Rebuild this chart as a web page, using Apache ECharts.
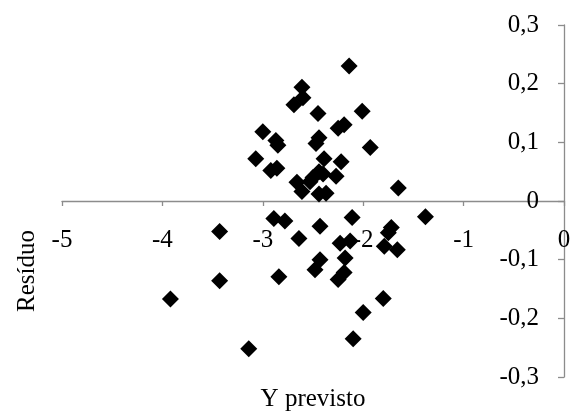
<!DOCTYPE html>
<html>
<head>
<meta charset="utf-8">
<script src="https://cdn.jsdelivr.net/npm/echarts@6/dist/echarts.min.js"></script>
<style>html,body{margin:0;padding:0;background:#fff}#c{width:576px;height:414px}</style>
</head>
<body>
<div id="c"></div>
<script>
const xTicks = [-5, -4, -3, -2, -1, 0];
const yTicks = [-0.3, -0.2, -0.1, 0, 0.1, 0.2, 0.3];
const yPrevisto = [
  -2.14, -2.61, -2.60, -2.69, -2.45, -2.01, -2.25, -2.19, -3.00, -2.87,
  -2.85, -2.44, -2.47, -1.93, -3.07, -2.39, -2.22, -2.92, -2.86, -2.27,
  -2.50, -2.40, -2.44, -2.66, -2.53, -2.61, -2.44, -2.37, -1.65,
  -2.89, -2.78, -2.11, -1.38, -3.43, -2.43, -1.72, -1.75, -2.64, -2.23,
  -2.13, -1.79, -1.66, -2.18, -2.43, -2.48, -2.19, -2.25, -2.84, -3.43,
  -3.92, -1.80, -2.00, -2.10, -3.14
];
const residuo = [
  0.230, 0.194, 0.176, 0.164, 0.149, 0.153, 0.124, 0.130, 0.118, 0.103,
  0.095, 0.108, 0.098, 0.091, 0.072, 0.072, 0.067, 0.052, 0.056, 0.042,
  0.040, 0.046, 0.050, 0.032, 0.033, 0.016, 0.012, 0.013, 0.022,
  -0.030, -0.034, -0.028, -0.027, -0.052, -0.043, -0.045, -0.054, -0.064, -0.072,
  -0.068, -0.077, -0.083, -0.097, -0.100, -0.117, -0.122, -0.134, -0.129, -0.136,
  -0.167, -0.166, -0.190, -0.235, -0.252
];
const xTitle = 'Y previsto';
const yTitle = 'Resíduo';

const data = yPrevisto.map((x, i) => [x, residuo[i]]);
const font = '"Liberation Serif", "Times New Roman", serif';
const axisColor = '#8c8c8c';
const labelSize = 25;
const GL = 62, GR = 12, GT = 25, GB = 37;
const H = 414;
const zeroY = GT + (H - GT - GB) * (yTicks[yTicks.length - 1] / (yTicks[yTicks.length - 1] - yTicks[0]));

const yFmt = v => { const r = Math.round(v * 10) / 10; return r === 0 ? '0' : r.toFixed(1).replace('.', ','); };

const chart = echarts.init(document.getElementById('c'), null, {renderer: 'canvas'});
chart.setOption({
  animation: false,
  backgroundColor: '#fff',
  grid: [
    {left: GL, right: GR, top: GT, bottom: GB, outerBoundsMode: 'none', containLabel: false},
    {left: GL, right: GR, top: GT, height: zeroY - GT, outerBoundsMode: 'none', containLabel: false}
  ],
  xAxis: [{
    gridIndex: 0, type: 'value',
    min: xTicks[0], max: xTicks[xTicks.length - 1], interval: 1,
    axisLine: {show: true, onZero: true, lineStyle: {color: axisColor, width: 1.3}},
    axisTick: {show: true, inside: false, length: 5, lineStyle: {color: axisColor, width: 1.3}},
    axisLabel: {show: false},
    splitLine: {show: false}
  }, {
    gridIndex: 1, type: 'value', position: 'bottom',
    min: xTicks[0], max: xTicks[xTicks.length - 1], interval: 1,
    axisLine: {show: false, onZero: false},
    axisTick: {show: false},
    axisLabel: {show: true, margin: 27, color: '#000', fontFamily: font, fontSize: labelSize,
      formatter: v => String(v)},
    splitLine: {show: false}
  }],
  yAxis: [{
    gridIndex: 0, type: 'value', position: 'right',
    min: yTicks[0], max: yTicks[yTicks.length - 1], interval: 0.1,
    axisLine: {show: true, onZero: false, lineStyle: {color: axisColor, width: 1.3}},
    axisTick: {show: true, inside: true, length: 6, lineStyle: {color: axisColor, width: 1.3}},
    axisLabel: {inside: true, margin: 25, color: '#000', fontFamily: font, fontSize: labelSize,
      formatter: yFmt},
    splitLine: {show: false}
  }, {
    gridIndex: 1, type: 'value', min: 0, max: 1, show: false
  }],
  graphic: [
    {type: 'text', x: 313, y: 399, style: {text: xTitle, font: '25px ' + font, fill: '#000', align: 'center', verticalAlign: 'middle'}},
    {type: 'text', x: 27, y: 271, rotation: Math.PI / 2, style: {text: yTitle, font: '25px ' + font, fill: '#000', align: 'center', verticalAlign: 'middle'}}
  ],
  series: [{
    type: 'scatter',
    xAxisIndex: 0, yAxisIndex: 0,
    symbol: 'diamond',
    symbolSize: 17,
    itemStyle: {color: '#000', opacity: 1},
    data: data
  }]
});
</script>
</body>
</html>
